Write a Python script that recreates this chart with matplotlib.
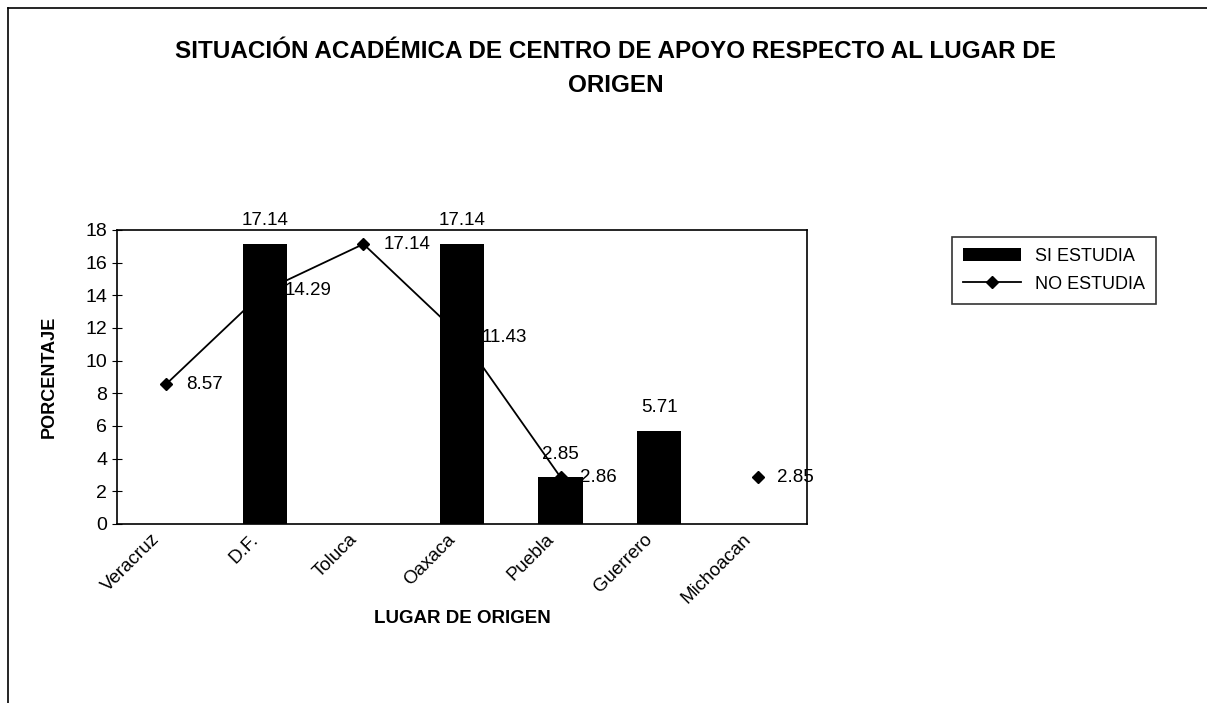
import numpy as np
import matplotlib.pyplot as plt
import matplotlib.transforms as mtrans

plt.rcParams['font.family'] = ['Liberation Sans', 'DejaVu Sans']

lugares = ['Veracruz', 'D.F.', 'Toluca', 'Oaxaca', 'Puebla', 'Guerrero', 'Michoacan']
si_estudia = [0, 17.14, 0, 17.14, 2.85, 5.71, 0]
no_estudia = [8.57, 14.29, 17.14, 11.43, 2.86, np.nan, 2.85]

fig = plt.figure(figsize=(12.07, 7.03), dpi=100)
ax = fig.add_axes([117 / 1207, 1 - 524 / 703, 690 / 1207, 294 / 703])

x = np.arange(len(lugares))
ax.bar(x, si_estudia, width=0.45, color='black', zorder=3, label='SI ESTUDIA')
ax.plot(x, no_estudia, color='black', lw=1.3, marker='D', ms=6, zorder=2, label='NO ESTUDIA')

for xi, v in zip(x, si_estudia):
    if v > 0:
        ax.text(xi, v + 0.9, f'{v:.2f}', ha='center', va='bottom', fontsize=13.5)
for xi, v in zip(x, no_estudia):
    if not np.isnan(v):
        ax.text(xi + 0.2, v, f'{v:.2f}', ha='left', va='center', fontsize=13.5, zorder=4)

ax.set_xlim(-0.5, len(lugares) - 0.5)
ax.set_ylim(0, 18)
ax.set_yticks(range(0, 19, 2))
ax.set_xticks(x)
ax.set_xticklabels(lugares, rotation=45, ha='right', rotation_mode='anchor', fontsize=13.5)
ax.tick_params(axis='x', length=0, pad=5)
ax.tick_params(axis='y', direction='inout', length=7, labelsize=14)
shift = mtrans.ScaledTranslation(-0.15, 0, fig.dpi_scale_trans)
for lab in ax.get_xticklabels():
    lab.set_transform(lab.get_transform() + shift)
for s in ax.spines.values():
    s.set_linewidth(1.2)

ax.set_ylabel('PORCENTAJE', fontsize=13, fontweight='bold', labelpad=20)
ax.set_xlabel('LUGAR DE ORIGEN', fontsize=13.5, fontweight='bold', labelpad=2)

fig.text(0.51, 0.903, 'SITUACIÓN ACADÉMICA DE CENTRO DE APOYO RESPECTO AL LUGAR DE\nORIGEN',
         ha='center', va='center', fontsize=17.5, fontweight='bold', linespacing=1.6)

h, l = ax.get_legend_handles_labels()
leg = ax.legend(h[::-1], l[::-1], loc='upper left', bbox_to_anchor=(943 / 1207, 1 - 228 / 703),
                bbox_transform=fig.transFigure, frameon=True, fancybox=False,
                edgecolor='black', fontsize=13, handlelength=3.2, borderpad=0.6,
                labelspacing=0.6)
leg.get_frame().set_linewidth(1.2)

# marco del grafico
fig.add_artist(plt.Line2D([8 / 1207, 8 / 1207], [0, 1 - 8 / 703], color='black', lw=1.2,
                          transform=fig.transFigure))
fig.add_artist(plt.Line2D([8 / 1207, 1], [1 - 8 / 703, 1 - 8 / 703], color='black', lw=1.2,
                          transform=fig.transFigure))

fig.savefig('out.png', dpi=100)
